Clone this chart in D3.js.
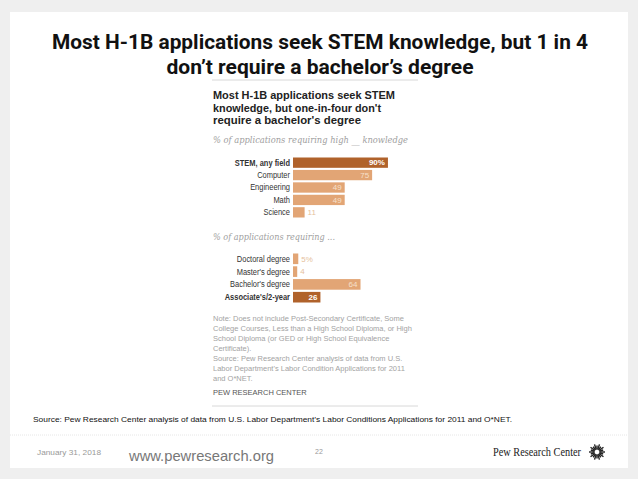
<!DOCTYPE html>
<html>
<head>
<meta charset="utf-8">
<script src="https://cdn.jsdelivr.net/npm/d3@7"></script>
<style>
  body { margin: 0; background: #efefef; }
  svg { display: block; }
</style>
</head>
<body>
<div id="chart"></div>
<script>
// Data
const knowledgeCats = ["STEM, any field", "Computer", "Engineering", "Math", "Science"];
const knowledgeVals = [90, 75, 49, 49, 11];
const knowledgeLabels = ["90%", "75", "49", "49", "11"];

const degreeCats = ["Doctoral degree", "Master's degree", "Bachelor's degree", "Associate's/2-year"];
const degreeVals = [5, 4, 64, 26];
const degreeLabels = ["5%", "4", "64", "26"];

// highlighted rows (darker bar, bold label)
const highlight = ["STEM, any field", "Associate's/2-year"];

const titleLines = ["Most H-1B applications seek STEM knowledge, but 1 in 4", "don\u2019t require a bachelor\u2019s degree"];
const chartTitleLines = ["Most H-1B applications seek STEM", "knowledge, but one-in-four don't", "require a bachelor's degree"];
const noteLines = [
  "Note: Does not include Post-Secondary Certificate, Some",
  "College Courses, Less than a High School Diploma, or High",
  "School Diploma (or GED or High School Equivalence",
  "Certificate).",
  "Source: Pew Research Center analysis of data from U.S.",
  "Labor Department's Labor Condition Applications for 2011",
  "and O*NET."
];

const width = 638;
const height = 479;

const svg = d3.select("#chart")
    .append("svg")
    .attr("width", width)
    .attr("height", height);

// slide background
svg.append("rect").attr("width", width).attr("height", height).attr("fill", "#efefef");
svg.append("rect").attr("x", 10).attr("y", 12).attr("width", 618).attr("height", 456).attr("fill", "#fff");

// slide title
svg.selectAll(".slide-title")
    .data(titleLines)
    .enter().append("text")
    .attr("class", "slide-title")
    .attr("x", 320)
    .attr("y", (d, i) => 49 + i * 25)
    .attr("text-anchor", "middle")
    .style("font-family", "'Liberation Sans Narrow', 'Roboto', sans-serif")
    .style("font-weight", "bold")
    .style("font-size", "21px")
    .attr("textLength", (d, i) => i === 0 ? 536 : 307)
    .attr("lengthAdjust", "spacingAndGlyphs")
    .attr("fill", "#111")
    .text(d => d);

// thin rules above / below the embedded chart
[80, 406].forEach(y => {
    svg.append("line")
        .attr("x1", 212).attr("x2", 418).attr("y1", y).attr("y2", y)
        .attr("stroke", "#d8d8d8").attr("stroke-width", 1);
});

// embedded chart title
svg.selectAll(".chart-title")
    .data(chartTitleLines)
    .enter().append("text")
    .attr("class", "chart-title")
    .attr("x", 213)
    .attr("y", (d, i) => 99 + i * 12.5)
    .style("font-family", "'Liberation Sans', Arial, sans-serif")
    .style("font-weight", "bold")
    .style("font-size", "11.5px")
    .attr("textLength", (d, i) => [182, 168, 148][i])
    .attr("lengthAdjust", "spacingAndGlyphs")
    .attr("fill", "#222")
    .text(d => d);

function subtitle(txt, y, len) {
    svg.append("text")
        .attr("x", 213).attr("y", y)
        .style("font-family", "Georgia, 'DejaVu Serif', serif")
        .style("font-style", "italic")
        .style("font-size", "9px")
        .attr("textLength", len)
        .attr("lengthAdjust", "spacingAndGlyphs")
        .attr("fill", "#a0a0a0")
        .text(txt);
}
subtitle("% of applications requiring high __ knowledge", 143, 195);
subtitle("% of applications requiring ...", 240, 122);

const x = d3.scaleLinear().domain([0, 100]).range([293, 398.5]);

const darkColor = "#b0622b";
const lightColor = "#e2a575";

function drawGroup(cats, vals, labels, y0, y1) {
    const y = d3.scaleBand().domain(cats).range([y0, y1]).paddingInner(0.17);
    const rows = cats.map((c, i) => ({ cat: c, val: vals[i], label: labels[i] }));
    const g = svg.append("g");

    g.selectAll("rect")
        .data(rows)
        .enter().append("rect")
        .attr("x", x(0))
        .attr("y", d => y(d.cat))
        .attr("width", d => x(d.val) - x(0))
        .attr("height", y.bandwidth())
        .attr("fill", d => highlight.includes(d.cat) ? darkColor : lightColor);

    // category labels (squeezed a little to mimic the narrow original face)
    g.selectAll(".cat")
        .data(rows)
        .enter().append("text")
        .attr("class", "cat")
        .attr("x", 290)
        .attr("y", d => y(d.cat) + y.bandwidth() / 2)
        .attr("dy", "0.35em")
        .attr("text-anchor", "end")
        .style("font-family", "'Liberation Sans', Arial, sans-serif")
        .style("font-size", "8.3px")
        .style("font-weight", d => highlight.includes(d.cat) ? "bold" : "normal")
        .attr("fill", "#333")
        .text(d => d.cat)
        .each(function () {
            const len = this.getComputedTextLength();
            d3.select(this).attr("textLength", len * 0.9).attr("lengthAdjust", "spacingAndGlyphs");
        });

    // value labels: inside long bars, outside short ones
    g.selectAll(".val")
        .data(rows)
        .enter().append("text")
        .attr("class", "val")
        .attr("x", d => d.val > 15 ? x(d.val) - 3 : x(d.val) + 3)
        .attr("y", d => y(d.cat) + y.bandwidth() / 2)
        .attr("dy", "0.35em")
        .attr("text-anchor", d => d.val > 15 ? "end" : "start")
        .style("font-family", "'Liberation Sans', Arial, sans-serif")
        .style("font-size", "8px")
        .style("font-weight", d => highlight.includes(d.cat) ? "bold" : "normal")
        .attr("fill", d => d.val > 15 ? (highlight.includes(d.cat) ? "#fff" : "#f6e0cc") : "#e6bf9c")
        .text(d => d.label);
}

drawGroup(knowledgeCats, knowledgeVals, knowledgeLabels, 157.5, 217.5);
drawGroup(degreeCats, degreeVals, degreeLabels, 253.5, 302.5);

// note + source inside the embedded chart
svg.selectAll(".note")
    .data(noteLines)
    .enter().append("text")
    .attr("class", "note")
    .attr("x", 213)
    .attr("y", (d, i) => 321 + i * 10)
    .style("font-family", "'Liberation Sans', Arial, sans-serif")
    .style("font-size", "7.5px")
    .attr("fill", "#a3a3a3")
    .text(d => d);

svg.append("text")
    .attr("x", 213).attr("y", 395)
    .style("font-family", "'Liberation Sans', Arial, sans-serif")
    .style("font-size", "7.5px")
    .attr("fill", "#555")
    .text("PEW RESEARCH CENTER");

// slide source line
svg.append("text")
    .attr("x", 33).attr("y", 422)
    .style("font-family", "'Liberation Sans Narrow', 'Liberation Sans', Arial, sans-serif")
    .style("font-size", "8px")
    .attr("textLength", 479)
    .attr("lengthAdjust", "spacingAndGlyphs")
    .attr("fill", "#111")
    .text("Source: Pew Research Center analysis of data from U.S. Labor Department\u2019s Labor Conditions Applications for 2011 and O*NET.");

// footer
svg.append("line")
    .attr("x1", 10).attr("x2", 628).attr("y1", 435).attr("y2", 435)
    .attr("stroke", "#e6e6e6").attr("stroke-dasharray", "1,1");

svg.append("text")
    .attr("x", 37).attr("y", 455)
    .style("font-family", "'Liberation Sans Narrow', 'Liberation Sans', sans-serif")
    .style("font-size", "7.5px")
    .attr("textLength", 64)
    .attr("lengthAdjust", "spacingAndGlyphs")
    .attr("fill", "#999")
    .text("January 31, 2018");

svg.append("text")
    .attr("x", 129).attr("y", 461)
    .style("font-family", "'Liberation Sans', Arial, sans-serif")
    .style("font-size", "15px")
    .attr("textLength", 145)
    .attr("lengthAdjust", "spacingAndGlyphs")
    .attr("fill", "#777")
    .text("www.pewresearch.org");

svg.append("text")
    .attr("x", 315).attr("y", 454)
    .style("font-family", "'Liberation Sans', Arial, sans-serif")
    .style("font-size", "7px")
    .attr("fill", "#999")
    .text("22");

svg.append("text")
    .attr("x", 493).attr("y", 456)
    .style("font-family", "'Liberation Serif', 'Times New Roman', serif")
    .style("font-size", "11.5px")
    .attr("textLength", 88)
    .attr("lengthAdjust", "spacingAndGlyphs")
    .attr("fill", "#222")
    .text("Pew Research Center");

// sunburst logo: rays of alternating length
const logo = svg.append("g").attr("transform", "translate(597,452)");
logo.selectAll("line")
    .data(d3.range(20))
    .enter().append("line")
    .attr("x1", d => Math.cos(d * Math.PI / 10) * 2.5)
    .attr("y1", d => Math.sin(d * Math.PI / 10) * 2.5)
    .attr("x2", d => Math.cos(d * Math.PI / 10) * (d % 2 ? 6.5 : 8))
    .attr("y2", d => Math.sin(d * Math.PI / 10) * (d % 2 ? 6.5 : 8))
    .attr("stroke", "#222")
    .attr("stroke-width", 1.4);
</script>
</body>
</html>
